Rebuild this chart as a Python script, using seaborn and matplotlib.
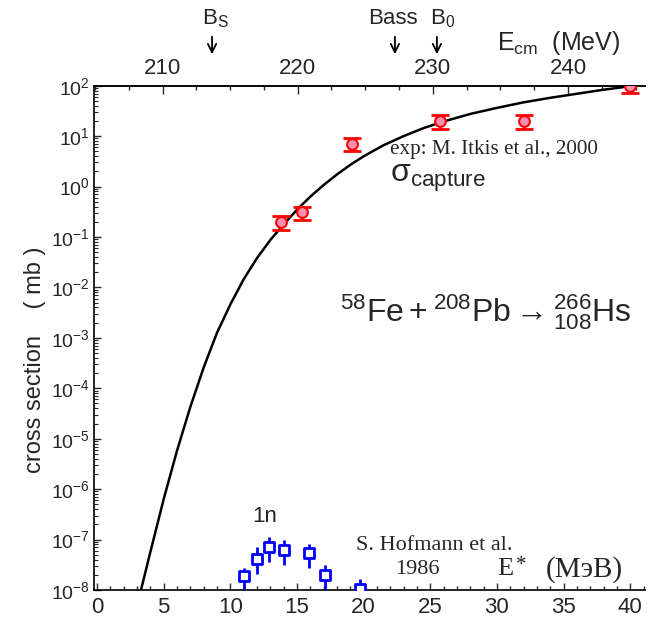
import numpy as np
import pandas as pd
import matplotlib
matplotlib.use("Agg")
import matplotlib.pyplot as plt
import seaborn as sns
from matplotlib.ticker import LogLocator, MultipleLocator, FixedLocator, NullFormatter

# ---------------- data ----------------
# theoretical capture cross section (E*, log10 sigma in mb)
curve_e = [3.3, 4.0, 5.0, 6.0, 7.0, 8.0, 9.0, 10.0, 11.0, 12.0, 13.0, 14.0, 15.0,
           16.0, 17.0, 18.0, 19.0, 20.0, 21.5, 23.0, 24.5, 26.0, 28.0, 30.0,
           32.0, 34.0, 36.0, 38.0, 40.0]
curve_log = [-8.0, -7.25, -6.2, -5.24, -4.37, -3.59, -2.90, -2.34, -1.84, -1.42,
             -1.06, -0.75, -0.46, -0.20, 0.03, 0.24, 0.43, 0.60, 0.82, 1.00, 1.16,
             1.29, 1.44, 1.56, 1.67, 1.76, 1.84, 1.92, 1.99]
curve_sigma = [10 ** v for v in curve_log]

# capture data (Itkis et al. 2000)
cap_e = [13.8, 15.4, 19.1, 25.7, 32.0, 40.0]
cap_sigma = [0.20, 0.31, 7.0, 20.0, 20.0, 100.0]
cap_err_lo = [0.06, 0.09, 2.0, 6.0, 6.0, 28.0]
cap_err_hi = [0.06, 0.09, 2.0, 6.0, 6.0, 28.0]

# 1n evaporation residue data (Hofmann et al. 1986)
er_e = [11.0, 12.0, 12.9, 14.0, 15.9, 17.1, 19.7]
er_sigma = [1.9e-8, 4.2e-8, 7.2e-8, 6.3e-8, 5.4e-8, 2.0e-8, 1.07e-8]
er_top = [2.75e-8, 7.0e-8, 1.15e-7, 9.8e-8, 8.1e-8, 3.2e-8, 1.67e-8]
er_bot = [0.5e-8, 2.1e-8, 3.6e-8, 3.1e-8, 2.7e-8, 0.5e-8, 0.5e-8]

# axis ticks
x_ticks = [0, 5, 10, 15, 20, 25, 30, 35, 40]
top_ticks = [210, 220, 230, 240]
y_ticks = [1e-8, 1e-7, 1e-6, 1e-5, 1e-4, 1e-3, 1e-2, 1e-1, 1e0, 1e1, 1e2]

# barrier markers (E* positions)
barrier_e = [8.63, 22.35, 25.5]

# ---------------- style ----------------
sns.set_theme(style="ticks")
plt.rcParams['font.family'] = ['Liberation Sans', 'DejaVu Sans']
plt.rcParams['mathtext.fontset'] = 'custom'
plt.rcParams['mathtext.rm'] = 'Liberation Sans'
plt.rcParams['mathtext.it'] = 'Liberation Sans:italic'
plt.rcParams['mathtext.bf'] = 'Liberation Sans:bold'

SERIF = ['Liberation Serif', 'DejaVu Serif']

W, H = 648, 617
fig = plt.figure(figsize=(W / 100, H / 100), dpi=100)
ax_l, ax_r, ax_t, ax_b = 94, 645, 85.7, 590
ax = fig.add_axes([ax_l / W, 1 - ax_b / H, (ax_r - ax_l) / W, (ax_b - ax_t) / H])
ax.set_facecolor('white')

x0 = -0.225
x1 = x0 + (ax_r - ax_l) / 13.33

curve_df = pd.DataFrame({'E': curve_e, 'sigma': curve_sigma})
sns.lineplot(data=curve_df, x='E', y='sigma', color='black', lw=1.8, ax=ax,
             sort=False, estimator=None)

cap_df = pd.DataFrame({'E': cap_e, 'sigma': cap_sigma})
ax.errorbar(cap_e, cap_sigma, yerr=[cap_err_lo, cap_err_hi], fmt='none',
            ecolor='red', elinewidth=2, capsize=6.5, capthick=2, zorder=3)
sns.scatterplot(data=cap_df, x='E', y='sigma', marker='o', s=60, color='#ff8fb0',
                edgecolor='red', linewidth=1.5, ax=ax, zorder=4)

er_df = pd.DataFrame({'E': er_e, 'sigma': er_sigma})
er_lo = [s - b for s, b in zip(er_sigma, er_bot)]
er_hi = [t - s for s, t in zip(er_sigma, er_top)]
ax.errorbar(er_e, er_sigma, yerr=[er_lo, er_hi], fmt='none', ecolor='blue',
            elinewidth=2, capsize=0, zorder=3)
sns.scatterplot(data=er_df, x='E', y='sigma', marker='s', s=50, color='white',
                edgecolor='blue', linewidth=2, ax=ax, zorder=4)

ax.set_yscale('log')
ax.set_xlim(x0, x1)
ax.set_ylim(1e-8, 1e2)
ax.set_xlabel('')
ax.set_ylabel('')

ax.xaxis.set_major_locator(FixedLocator(x_ticks))
ax.xaxis.set_minor_locator(MultipleLocator(1))
ax.set_xticklabels([str(t) for t in x_ticks])
ax.yaxis.set_major_locator(FixedLocator(y_ticks))
ax.yaxis.set_minor_locator(LogLocator(base=10, subs=np.arange(2, 10), numticks=30))
ax.yaxis.set_minor_formatter(NullFormatter())
ax.set_yticklabels([r'$10^{%d}$' % int(round(np.log10(v))) for v in y_ticks])

ax.tick_params(axis='x', which='major', direction='in', length=5, width=1,
               labelsize=16, pad=5, top=False)
ax.tick_params(axis='x', which='minor', direction='in', length=3, width=1, top=False)
ax.tick_params(axis='y', which='major', direction='in', length=5, width=1,
               labelsize=14, pad=3, right=False)
ax.tick_params(axis='y', which='minor', direction='in', length=3, width=0.8, right=False)

for s in ['left', 'bottom', 'top']:
    ax.spines[s].set_color('black')
    ax.spines[s].set_linewidth(1.2)
ax.spines['right'].set_visible(False)

# top axis: E_cm
def e2cm(e):
    return 210 + (np.asarray(e) - 4.92) / 1.0137

def cm2e(c):
    return 4.92 + (np.asarray(c) - 210) * 1.0137

sec = ax.secondary_xaxis('top', functions=(e2cm, cm2e))
sec.xaxis.set_major_locator(FixedLocator(top_ticks))
sec.xaxis.set_minor_locator(MultipleLocator(2.5))
sec.set_xticklabels([str(t) for t in top_ticks])
sec.tick_params(axis='x', which='major', direction='in', length=6, width=1,
                labelsize=16, pad=5)
sec.tick_params(axis='x', which='minor', direction='in', length=3, width=1)
sec.spines['top'].set_linewidth(1.2)

# barrier arrows & labels
def fy(px):
    return (ax_b - px) / (ax_b - ax_t)

for e in barrier_e:
    ax.annotate('', xy=(e, fy(57)), xycoords=('data', 'axes fraction'),
                xytext=(e, fy(34)), textcoords=('data', 'axes fraction'),
                arrowprops=dict(arrowstyle='->', color='black', lw=1.3,
                                mutation_scale=15), annotation_clip=False)
xt = ax.get_xaxis_transform()
ax.text(barrier_e[0] + 0.25, fy(19), r'B$_\mathrm{S}$', transform=xt,
        ha='center', va='center', fontsize=16)
ax.text(barrier_e[1] - 0.15, fy(18), 'Bass', transform=xt,
        ha='center', va='center', fontsize=16)
ax.text(barrier_e[2] + 0.45, fy(19), r'B$_0$', transform=xt,
        ha='center', va='center', fontsize=16)
ax.text(30.0, fy(43), r'E$_\mathrm{cm}$  (MeV)', transform=xt,
        ha='left', va='center', fontsize=18)

# annotations inside
ax.text(21.98, 10 ** 0.725, 'exp: M. Itkis et al., 2000', fontsize=15.2,
        family=SERIF, ha='left', va='center')
ax.text(21.98, 10 ** 0.16, r'σ$_\mathrm{capture}$', fontsize=23, ha='left', va='center')
ax.text(18.2, 10 ** -2.49,
        r'$^{58}\mathrm{Fe} + {}^{208}\mathrm{Pb} \rightarrow {}^{266}_{108}\mathrm{Hs}$',
        fontsize=23, ha='left', va='center')
ax.text(12.6, 10 ** -6.55, '1n', fontsize=16, ha='center', va='center')
ax.text(19.4, 10 ** -7.12, 'S. Hofmann et al.', fontsize=16,
        family=SERIF, ha='left', va='center')
ax.text(24.0, 10 ** -7.6, '1986', fontsize=16,
        family=SERIF, ha='center', va='center')
y_e = 10 ** -7.59
ax.text(30.0, y_e, 'E', fontsize=19, family=SERIF, ha='left', va='center')
ax.annotate('*', xy=(30.0, y_e), xytext=(13.5, 3), textcoords='offset points',
            fontsize=15, family=SERIF, ha='left', va='center')
ax.text(33.7, y_e, '(МэВ)', fontsize=21, family=SERIF, ha='left', va='center')

fig.text(35 / W, 1 - 360 / H, 'cross section    ( mb )', rotation=90,
         ha='center', va='center', fontsize=17)

fig.savefig('out.png', dpi=100, facecolor='white')
